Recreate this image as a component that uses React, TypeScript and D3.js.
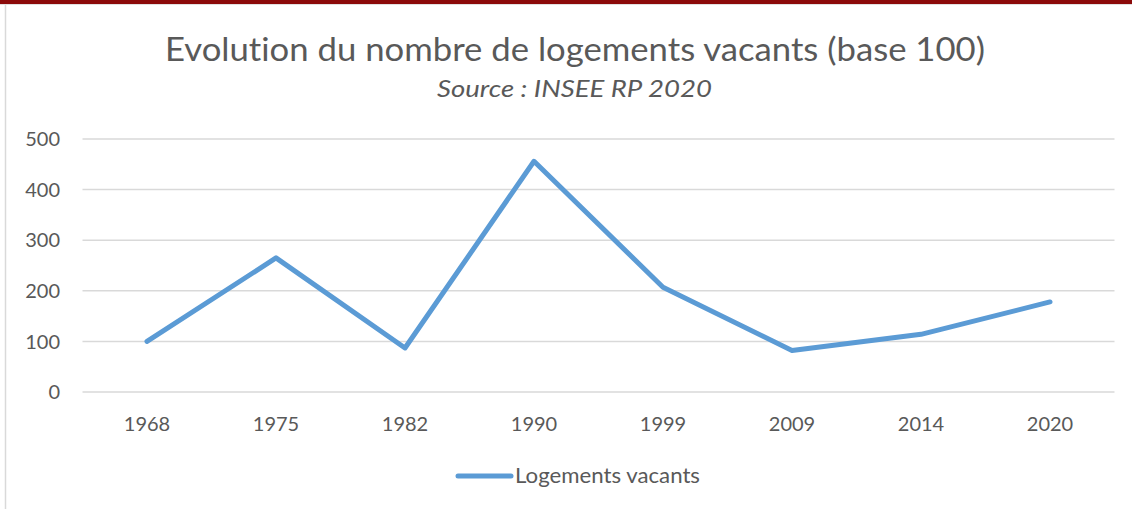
import React from "react";
import * as d3 from "d3";

const years = ["1968", "1975", "1982", "1990", "1999", "2009", "2014", "2020"];
const values = [100, 265, 87, 456, 207, 82, 114, 178];
const yTicks = [0, 100, 200, 300, 400, 500];
const title = "Evolution du nombre de logements vacants (base 100)";
const subtitle = "Source : INSEE RP 2020";
const seriesName = "Logements vacants";

const W = 1132;
const H = 509;
const FONT = "Lato, 'Open Sans', sans-serif";
const TEXT = "#595959";

export default function App() {
  const x = d3.scaleBand<string>().domain(years).range([82.5, 1114.5]);
  const y = d3.scaleLinear().domain([0, 500]).range([392, 139]);
  const line = d3
    .line<number>()
    .x((_, i) => (x(years[i]) as number) + x.bandwidth() / 2)
    .y((d) => y(d));

  return (
    <svg
      width={W}
      height={H}
      style={{
        position: "absolute",
        left: 0,
        top: 0,
        background: "#fff",
        fontVariantLigatures: "none",
      }}
      fontFamily={FONT}
    >
      <rect x={0} y={0} width={W} height={4} fill="#8B0A0A" />
      <line x1={0} x2={W} y1={4.5} y2={4.5} stroke="#e0e0e0" strokeWidth={1} />
      <line x1={5.5} x2={5.5} y1={5} y2={H} stroke="#d9d9d9" strokeWidth={1.5} />

      <text
        x={165}
        y={61}
        fontSize={33}
        fill={TEXT}
        textLength={820}
        lengthAdjust="spacingAndGlyphs"
      >
        {title}
      </text>
      <text
        x={437}
        y={97}
        fontSize={24}
        fontStyle="italic"
        fill={TEXT}
        textLength={275}
        lengthAdjust="spacingAndGlyphs"
      >
        {subtitle}
      </text>

      {yTicks.map((t) => (
        <g key={t}>
          <line x1={82.5} x2={1114.5} y1={y(t)} y2={y(t)} stroke="#d9d9d9" strokeWidth={1.5} />
          <text x={60} y={y(t)} dy="0.36em" textAnchor="end" fontSize={20} fill={TEXT}>
            {t}
          </text>
        </g>
      ))}

      {years.map((yr) => (
        <text
          key={yr}
          x={(x(yr) as number) + x.bandwidth() / 2}
          y={431}
          textAnchor="middle"
          fontSize={20}
          fill={TEXT}
        >
          {yr}
        </text>
      ))}

      <path
        d={line(values) || ""}
        fill="none"
        stroke="#5B9BD5"
        strokeWidth={5}
        strokeLinejoin="round"
        strokeLinecap="round"
      />

      <line x1={458} x2={511} y1={476} y2={476} stroke="#5B9BD5" strokeWidth={5} strokeLinecap="round" />
      <text
        x={515}
        y={483}
        fontSize={21}
        fill={TEXT}
        textLength={185}
        lengthAdjust="spacingAndGlyphs"
      >
        {seriesName}
      </text>
    </svg>
  );
}
